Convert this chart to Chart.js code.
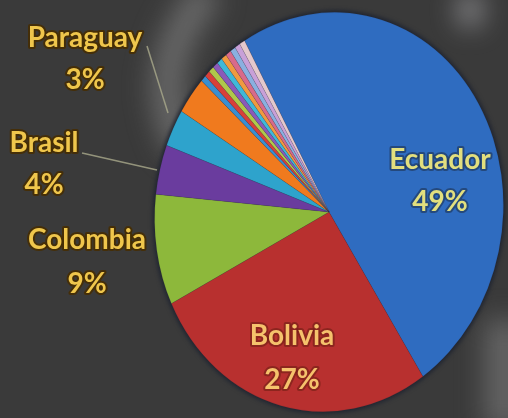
<!DOCTYPE html>
<html>
<head>
<meta charset="utf-8">
<script src="https://cdn.jsdelivr.net/npm/chart.js@4/dist/chart.umd.min.js"></script>
<style>
  html, body { margin: 0; padding: 0; background: #3a3a3a; }
  #wrap { width: 508px; height: 418px; }
</style>
</head>
<body>
<div id="wrap"><canvas id="myChart" width="508" height="418"></canvas></div>
<script>
// share by country, clockwise from the top
var countries = ['Ecuador', 'Bolivia', 'Colombia', 'Brasil', '', 'Paraguay', '', '', '', '', '', '', '', '', '', '']
var shares = [49, 27, 9, 4, 3, 3, 0.5, 0.5, 0.5, 0.5, 0.5, 0.5, 0.5, 0.5, 0.5, 0.5]
var colors = ['#2f6cc0', '#b8302f', '#8db83b', '#6a3c9e', '#2ea3cc', '#f07a1e',
  '#3a8fd0', '#d8403a', '#b0c84a', '#8a5ab8', '#40b8d8', '#f09a40', '#d86a8a', '#8ab0e0', '#c8a0d8', '#e4c8cc']

// where the pie sits: tilted ellipse
var pie_cx = 329, pie_cy = 212, pie_rx = 174, pie_ry = 200, pie_tilt = 7

// text placement: [index, x, y of name, y of value]
var label_spots = [
  [0, 440, 160, 202],
  [1, 292, 336, 380],
  [2, 87, 240, 284],
  [3, 44, 143, 185],
  [5, 85, 38, 80]
]
var leader_lines = [
  [147, 46, 168, 113],
  [82, 153, 157, 170]
]

function backdrop(ctx) {
  ctx.fillStyle = '#3a3a3a'
  ctx.fillRect(0, 0, 508, 418)
  ctx.save()
  ctx.filter = 'blur(14px)'
  ctx.strokeStyle = 'rgba(150,150,150,0.55)'
  ctx.lineWidth = 30
  ctx.beginPath()
  ctx.moveTo(210, -10)
  ctx.quadraticCurveTo(140, 70, 185, 150)
  ctx.stroke()
  ctx.fillStyle = 'rgba(130,130,130,0.6)'
  ctx.fillRect(485, 320, 40, 110)
  ctx.fillStyle = 'rgba(220,220,225,0.7)'
  ctx.beginPath()
  ctx.ellipse(470, 10, 10, 16, 0, 0, Math.PI * 2)
  ctx.fill()
  ctx.restore()
  // dark rim behind the pie
  ctx.save()
  ctx.fillStyle = '#1f2430'
  ctx.filter = 'blur(2px)'
  ctx.beginPath()
  ctx.ellipse(pie_cx, pie_cy, pie_rx + 2, pie_ry + 2, pie_tilt * Math.PI / 180, 0, Math.PI * 2)
  ctx.fill()
  ctx.restore()
}

const ellipse_plugin = {
  id: 'ellipse_plugin',
  beforeDraw(chart) {
    backdrop(chart.ctx)
  },
  beforeDatasetsDraw(chart) {
    var ctx = chart.ctx
    var arc = chart.getDatasetMeta(0).data[0]
    var r = arc.outerRadius
    ctx.save()
    ctx.translate(pie_cx, pie_cy)
    ctx.rotate(pie_tilt * Math.PI / 180)
    ctx.scale(pie_rx / r, pie_ry / r)
    ctx.translate(-arc.x, -arc.y)
  },
  afterDatasetsDraw(chart) {
    chart.ctx.restore()
  },
  afterDraw(chart) {
    var ctx = chart.ctx
    ctx.save()
    ctx.strokeStyle = 'rgba(170,170,140,0.8)'
    ctx.lineWidth = 1.5
    leader_lines.forEach(function (l) {
      ctx.beginPath()
      ctx.moveTo(l[0], l[1])
      ctx.lineTo(l[2], l[3])
      ctx.stroke()
    })
    ctx.font = 'bold 28px Lato'
    ctx.textAlign = 'center'
    ctx.textBaseline = 'middle'
    ctx.lineJoin = 'round'
    label_spots.forEach(function (s) {
      var i = s[0]
      var fill = '#efc64c', edge = 'rgba(70,45,0,0.85)'
      if (i == 0) { fill = '#e2df7e'; edge = 'rgba(30,50,80,0.6)' }
      if (i == 1) { fill = '#f5c26c'; edge = 'rgba(110,30,20,0.6)' }
      var lines = [[countries[i], s[2]], [Math.round(shares[i]) + '%', s[3]]]
      lines.forEach(function (t) {
        ctx.strokeStyle = edge
        ctx.lineWidth = 4
        ctx.strokeText(t[0], s[1], t[1])
        ctx.fillStyle = fill
        ctx.fillText(t[0], s[1], t[1])
      })
    })
    ctx.restore()
  }
}

const ctx = document.getElementById('myChart')

new Chart(ctx, {
  type: 'pie',
  data: {
    labels: countries,
    datasets: [{
      data: shares,
      backgroundColor: colors,
      borderColor: 'rgba(40,40,60,0.25)',
      borderWidth: 0.5
    }]
  },
  options: {
    responsive: false,
    animation: false,
    rotation: -37,
    plugins: {
      legend: { display: false },
      tooltip: { enabled: false }
    }
  },
  plugins: [ellipse_plugin]
})
</script>
</body>
</html>
